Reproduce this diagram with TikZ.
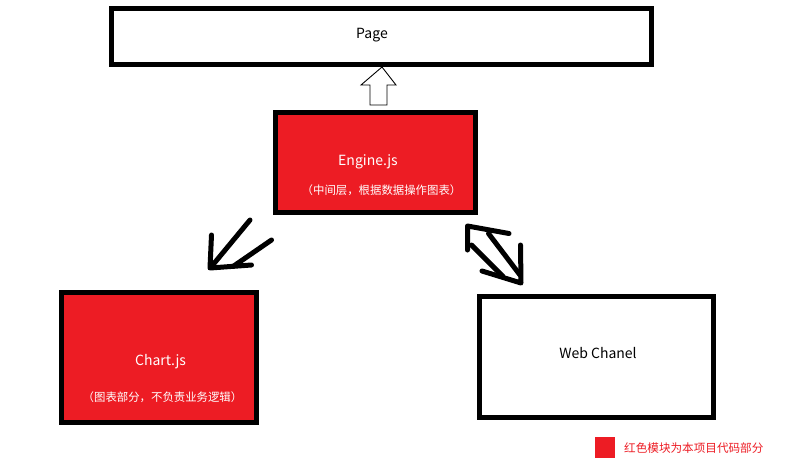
\documentclass[tikz,border=0pt]{standalone}
\usepackage{fontspec}
\setmainfont{Noto Sans CJK SC}
\definecolor{modred}{RGB}{237,28,36}
\begin{document}
\begin{tikzpicture}[x=1pt,y=-1pt,
  box/.style={draw=black,line width=5pt,rectangle,inner sep=0pt},
  modbox/.style={box,fill=modred},
  title/.style={font=\fontsize{14}{16}\selectfont},
  note/.style={font=\fontsize{11.4}{13}\selectfont,text=white},
  stroke/.style={line width=5pt,line cap=round,line join=round}]
\useasboundingbox[fill=white] (0,0) rectangle (788,466);

% boxes
\node[box,minimum width=540pt,minimum height=56pt] (page) at (381,36) {};
\node[modbox,minimum width=200pt,minimum height=100pt] (engine) at (375.5,162.5) {};
\node[modbox,minimum width=195pt,minimum height=130pt] (chart) at (158.5,357.5) {};
\node[box,minimum width=234pt,minimum height=121pt] (web) at (596,356.5) {};

% texts
\node[title] (pagetxt) at (372,35) {Page};
\node[title,text=white] (enginetxt) at (368,162) {Engine.js};
\node[note] (enginenote) at (381.5,190) {（中间层，根据数据操作图表）};
\node[title,text=white] (charttxt) at (160.5,362) {Chart.js};
\node[note] (chartnote) at (162.5,397) {（图表部分，不负责业务逻辑）};
\node[title] (webtxt) at (598,353) {Web Chanel};

% legend
\node[fill=modred,minimum width=20pt,minimum height=21pt,inner sep=0pt] (legbox) at (605,447.5) {};
\node[anchor=west,text=modred,font=\fontsize{11.6}{13}\selectfont,inner sep=0pt] (legtxt) at (624,448) {红色模块为本项目代码部分};

% hollow arrow from Engine.js up to Page
\draw[line width=0.9pt,fill=white] (382,67) -- (396,85) -- (387,85) -- (387,105)
  -- (370,105) -- (370,85) -- (361,85) -- cycle;

% hand-drawn arrow towards Chart.js
\draw[stroke] (250,220) -- (211.5,266.5);
\draw[stroke] (271.5,240) -- (233,266.5);
\draw[stroke] (211.5,235) -- (210,268) -- (251.5,265);

% hand-drawn double arrow between Engine.js and Web Chanel
\draw[stroke] (467.5,250) -- (467.5,226) -- (509,233.5);
\draw[stroke] (471.5,245) -- (503,276.5);
\draw[stroke] (488.5,233.5) -- (520,275);
\draw[stroke] (482,271) -- (521,283) -- (520.5,245);
\end{tikzpicture}
\end{document}
